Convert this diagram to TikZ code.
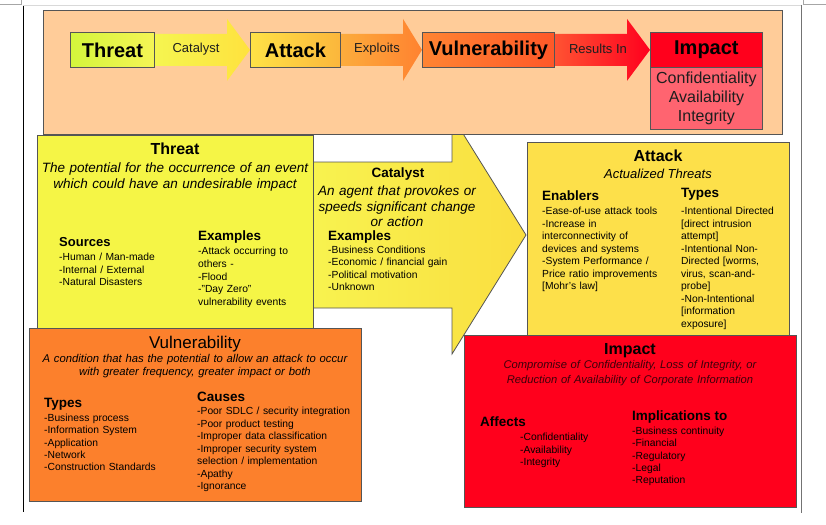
\documentclass[tikz,border=0pt]{standalone}
\usepackage{fontspec}
\setmainfont{Liberation Sans}
\usetikzlibrary{calc}
\definecolor{peach}{RGB}{255,204,153}
\definecolor{edge}{RGB}{85,85,85}
\definecolor{thY}{RGB}{245,245,70}
\definecolor{atY}{RGB}{253,224,74}
\definecolor{vuO}{RGB}{252,128,44}
\definecolor{imR}{RGB}{255,0,28}
\definecolor{imP}{RGB}{255,100,112}
\definecolor{lbl}{RGB}{30,30,30}
\pgfdeclarelayer{bgw}
\pgfdeclarelayer{bgg}
\pgfdeclarelayer{bg}
\pgfsetlayers{bgw,bgg,bg,main}
\tikzset{
  bx/.style={draw=edge, line width=0.8pt, inner sep=0pt, anchor=north west},
  bigttl/.style={font=\bfseries\fontsize{20}{24}\selectfont},
  arlbl/.style={font=\fontsize{13}{15}\selectfont, text=lbl, inner sep=0pt},
  ttl/.style={font=\bfseries\fontsize{16}{19}\selectfont, inner sep=0pt, anchor=base},
  sub/.style={font=\itshape\fontsize{13.5}{15.5}\selectfont, align=center, text width=300pt, inner sep=0pt, anchor=base},
  subs/.style={font=\itshape\fontsize{11.2}{14}\selectfont, align=center, text width=340pt, inner sep=0pt, anchor=base},
  hd/.style={font=\bfseries\fontsize{13.5}{16}\selectfont, inner sep=0pt, anchor=base west},
  itm/.style={font=\fontsize{10.3}{12.5}\selectfont, align=left, text width=170pt, inner sep=0pt, anchor=base west},
}
\begin{document}
\begin{tikzpicture}[x=1pt,y=-1pt]
\begin{pgfonlayer}{bgw}
\fill[white] (0,0) rectangle (826,524);
\end{pgfonlayer}
\useasboundingbox (0,0) rectangle (826,524);
% page edges
\draw[black, line width=1pt] (23,5) -- (23,512);
\draw[black!15, line width=0.8pt] (23,5) -- (801,5);
\draw[black!55, line width=0.8pt] (801,5) -- (801,513);
\draw[black!35, line width=0.6pt] (0,4) -- (21,4) -- (21,0);
\draw[black!35, line width=0.6pt] (803,0) -- (803,4) -- (826,4);

% ---------- banner boxes ----------
\node[bx, left color={rgb,255:red,212;green,245;blue,60}, right color={rgb,255:red,245;green,245;blue,85},
      minimum width=84pt, minimum height=35pt, bigttl] (tb) at (70,32) {Threat};
\node[bx, left color={rgb,255:red,255;green,226;blue,70}, right color={rgb,255:red,251;green,182;blue,60},
      minimum width=90pt, minimum height=35pt, bigttl] (ab) at (250,32) {Attack};
\node[bx, left color={rgb,255:red,255;green,132;blue,50}, right color={rgb,255:red,255;green,88;blue,40},
      minimum width=132pt, minimum height=35pt, bigttl] (vb) at (422,32) {Vulnerability};
\node[bx, fill=imR, minimum width=112pt, minimum height=35pt, bigttl] (ib) at (650,32) {Impact};
\node[bx, fill=imP, minimum width=112pt, minimum height=62pt, align=center,
      font=\fontsize{16}{19}\selectfont, text=lbl] (ic) at (650,67) {Confidentiality\\Availability\\Integrity};

\begin{pgfonlayer}{bg}
\node[bx, fill=peach, minimum width=739pt, minimum height=124pt] (banner) at (43,10) {};
\shade[left color={rgb,255:red,245;green,245;blue,80}, right color={rgb,255:red,255;green,226;blue,62}]
  ([yshift=16pt]tb.east) -- ([xshift=-23pt,yshift=16pt]ab.west) -- ([xshift=-23pt,yshift=31pt]ab.west)
  -- (ab.west) -- ([xshift=-23pt,yshift=-31pt]ab.west) -- ([xshift=-23pt,yshift=-16pt]ab.west)
  -- ([yshift=-16pt]tb.east) -- cycle;
\shade[left color={rgb,255:red,252;green,172;blue,60}, right color={rgb,255:red,255;green,130;blue,48}]
  ([yshift=16pt]ab.east) -- ([xshift=-19pt,yshift=16pt]vb.west) -- ([xshift=-19pt,yshift=31pt]vb.west)
  -- (vb.west) -- ([xshift=-19pt,yshift=-31pt]vb.west) -- ([xshift=-19pt,yshift=-16pt]vb.west)
  -- ([yshift=-16pt]ab.east) -- cycle;
\shade[left color={rgb,255:red,255;green,82;blue,50}, right color={rgb,255:red,255;green,0;blue,30}]
  ([yshift=16pt]vb.east) -- ([xshift=-23pt,yshift=16pt]ib.west) -- ([xshift=-23pt,yshift=31pt]ib.west)
  -- (ib.west) -- ([xshift=-23pt,yshift=-31pt]ib.west) -- ([xshift=-23pt,yshift=-16pt]ib.west)
  -- ([yshift=-16pt]vb.east) -- cycle;
\end{pgfonlayer}
\node[arlbl] (lcat) at (196,49) {Catalyst};
\node[arlbl] (lexp) at (377,49) {Exploits};
\node[arlbl] (lres) at (598,49) {Results In};

% ---------- big catalyst arrow ----------
\begin{pgfonlayer}{bgg}
\draw[edge, line width=0.8pt, left color={rgb,255:red,248;green,244;blue,80}, right color={rgb,255:red,250;green,222;blue,64}]
  (300,162) -- (452,162) -- (452,116) -- (526,235) -- (452,354) -- (452,308) -- (300,308) -- cycle;
\end{pgfonlayer}

% ---------- Threat ----------
\node[bx, fill=thY, minimum width=276pt, minimum height=205pt] (thr) at (37,135) {};
\node[ttl] (thrT) at (175,154) {Threat};
\node[sub] (thrS) at (175,172.5) {The potential for the occurrence of an event\\which could have an undesirable impact};
\node[hd, font=\bfseries\fontsize{13}{16}\selectfont] (thrH1) at (59,246.5) {Sources};
\node[itm] (thrL1) at (59,260.5) {-Human / Man-made\\-Internal / External\\-Natural Disasters};
\node[hd] (thrH2) at (198,240.5) {Examples};
\node[itm, font=\fontsize{10.3}{12.8}\selectfont] (thrL2) at (198,254.5) {-Attack occurring to\\others -\\-Flood\\-"Day Zero"\\vulnerability events};

% ---------- Catalyst texts ----------
\node[ttl, font=\bfseries\fontsize{13.5}{16}\selectfont] (catT) at (398,177.5) {Catalyst};
\node[sub, text width=220pt] (catS) at (397,195.5) {An agent that provokes or\\speeds significant change\\or action};
\node[hd] (catH) at (328,240.5) {Examples};
\node[itm, font=\fontsize{10.3}{12.4}\selectfont] (catL) at (328,253.5) {-Business Conditions\\-Economic / financial gain\\-Political motivation\\-Unknown};

% ---------- Attack ----------
\node[bx, fill=atY, minimum width=262pt, minimum height=194pt] (att) at (527,142) {};
\node[ttl] (attT) at (658,161.5) {Attack};
\node[ttl, font=\itshape\fontsize{13}{15}\selectfont] (attS) at (658,178.5) {Actualized Threats};
\node[hd] (attH1) at (542,200.5) {Enablers};
\node[itm, text width=130pt] (attL1) at (542,214.5) {-Ease-of-use attack tools\\-Increase in\\interconnectivity of\\devices and systems\\-System Performance /\\Price ratio improvements\\{[}Mohr's law{]}};
\node[hd] (attH2) at (681,197.5) {Types};
\node[itm, text width=105pt] (attL2) at (681,214.5) {-Intentional Directed\\{[}direct intrusion\\attempt{]}\\-Intentional Non-\\Directed {[}worms,\\virus, scan-and-\\probe{]}\\-Non-Intentional\\{[}information\\exposure{]}};

% ---------- Vulnerability ----------
\node[bx, fill=vuO, minimum width=332pt, minimum height=173pt] (vul) at (29,328) {};
\node[ttl, font=\fontsize{17}{20}\selectfont] (vulT) at (195,348) {Vulnerability};
\node[subs, font=\itshape\fontsize{11.3}{13}\selectfont] (vulS) at (195,362.5) {A condition that has the potential to allow an attack to occur\\with greater frequency, greater impact or both};
\node[hd] (vulH1) at (44,407.5) {Types};
\node[itm, font=\fontsize{10.3}{12.3}\selectfont] (vulL1) at (44,421.5) {-Business process\\-Information System\\-Application\\-Network\\-Construction Standards};
\node[hd] (vulH2) at (197,401.5) {Causes};
\node[itm] (vulL2) at (197,414.5) {-Poor SDLC / security integration\\-Poor product testing\\-Improper data classification\\-Improper security system\\selection / implementation\\-Apathy\\-Ignorance};

% ---------- Impact ----------
\node[bx, fill=imR, minimum width=332pt, minimum height=172pt] (imp) at (464,335) {};
\node[ttl] (impT) at (630,354.5) {Impact};
\node[subs, font=\itshape\fontsize{11.2}{15}\selectfont, text={rgb,255:red,60;green,0;blue,10}] (impS) at (630,368.5) {Compromise of Confidentiality, Loss of Integrity, or\\Reduction of Availability of Corporate Information};
\node[hd] (impH1) at (480,426.5) {Affects};
\node[itm] (impL1) at (520,440.5) {-Confidentiality\\-Availability\\-Integrity};
\node[hd] (impH2) at (632,420.5) {Implications to};
\node[itm, font=\fontsize{10.3}{12.3}\selectfont] (impL2) at (632,434.5) {-Business continuity\\-Financial\\-Regulatory\\-Legal\\-Reputation};
\end{tikzpicture}
\end{document}
